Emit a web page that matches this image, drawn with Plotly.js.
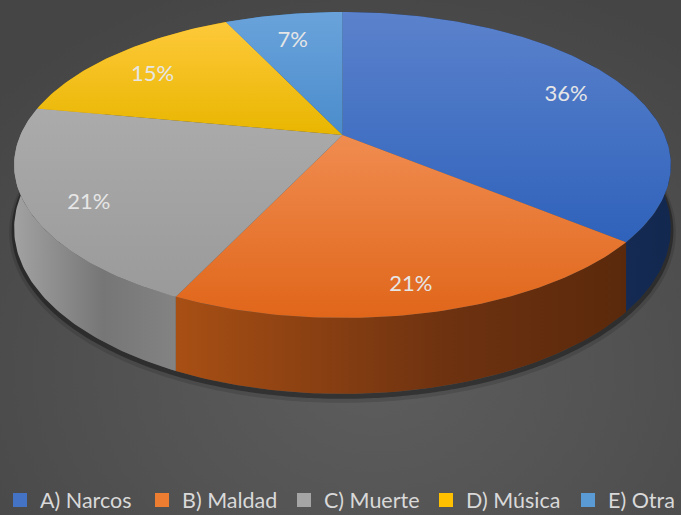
<!DOCTYPE html>
<html><head><meta charset="utf-8">
<script src="https://cdn.plot.ly/plotly-3.0.1.min.js"></script>
<style>
html,body{margin:0;padding:0;background:#4a4a4a;}
#chart{width:681px;height:515px;background:radial-gradient(ellipse 75% 80% at 55% 72%, #5d5d5d 0%, #535353 45%, #454545 100%);}
</style>
</head><body><div id="chart"></div>
<script>
// ---- data ----
const categories = ['A) Narcos', 'B) Maldad', 'C) Muerte', 'D) Música', 'E) Otra'];
const values = [36, 21, 21, 15, 7];

// ---- styles ----
const legendColors = ['#4472C4', '#ED7D31', '#A5A5A5', '#FFC000', '#5B9BD5'];
const topScales = [
  [[0, '#2f62bb'], [1, '#5b82cc']],
  [[0, '#e0661a'], [1, '#f08c50']],
  [[0, '#9a9a9a'], [1, '#ababab']],
  [[0, '#e8b600'], [1, '#fec93a']],
  [[0, '#4a8ccc'], [1, '#6aa3db']]
];
const sideScales = [
  [[0, '#1d3666'], [1, '#13284f']],
  [[0, '#a84f14'], [0.6, '#6e3210'], [1, '#5a290b']],
  [[0, '#a2a2a2'], [0.55, '#767676'], [1, '#838383']],
  [[0, '#c99a00'], [1, '#a07800']],
  [[0, '#3f78b0'], [1, '#2f6090']]
];

// ---- projection (pixel frame) ----
const W = 681, H = 515;
const CX = 342.5, CY = 135, AY = 147.1, BX = 322, K = 0.196, DEPTH = 61;
const LABEL_R = 0.82, LABEL_DROP = 9;
function proj(theta, r, drop) {
  const u = r * Math.sin(theta), v = -r * Math.cos(theta);
  const d = 1 - K * v;
  return [CX + BX * u / d, H - (CY + AY * v / d + drop / d)];
}
const total = values.reduce((a, b) => a + b, 0);
const starts = [], ends = [];
let acc = 0;
values.forEach(v => { starts.push(acc / total * 2 * Math.PI); acc += v; ends.push(acc / total * 2 * Math.PI); });

function arc(a0, a1, drop) {
  const n = Math.max(2, Math.ceil((a1 - a0) / (Math.PI / 180)));
  const pts = [];
  for (let i = 0; i <= n; i++) pts.push(proj(a0 + (a1 - a0) * i / n, 1, drop));
  return pts;
}

const traces = [];
// shadow under the pie
[[10, 'rgba(0,0,0,0.12)', 4], [5, 'rgba(0,0,0,0.35)', 2.5]].forEach(([w, c, off]) => {
  const pts = arc(75 * Math.PI / 180, 285 * Math.PI / 180, DEPTH);
  traces.push({type: 'scatter', mode: 'lines', x: pts.map(p => p[0]), y: pts.map(p => p[1] - off),
    line: {color: c, width: w, shape: 'spline'}, hoverinfo: 'skip', showlegend: false});
});

// side walls (back-to-front order)
const sideOrder = [3, 4, 0, 2, 1];
sideOrder.forEach(i => {
  const topE = arc(starts[i], ends[i], 0);
  const botE = arc(starts[i], ends[i], DEPTH).reverse();
  const pts = topE.concat(botE);
  traces.push({type: 'scatter', mode: 'lines', fill: 'toself', x: pts.map(p => p[0]), y: pts.map(p => p[1]),
    line: {width: 0}, fillgradient: {type: 'horizontal', colorscale: sideScales[i]},
    hoverinfo: 'skip', showlegend: false});
});

// top faces
values.forEach((v, i) => {
  const c = proj(0, 0, 0);
  const pts = [c].concat(arc(starts[i], ends[i], 0)).concat([c]);
  const ys = pts.map(p => p[1]);
  traces.push({type: 'scatter', mode: 'lines', fill: 'toself', x: pts.map(p => p[0]), y: ys,
    line: {width: 0}, fillgradient: {type: 'vertical', colorscale: topScales[i],
      start: Math.min(...ys), stop: Math.max(...ys)},
    hoverinfo: 'skip', showlegend: false});
});

// percentage labels
const lab = values.map((v, i) => proj((starts[i] + ends[i]) / 2, LABEL_R, LABEL_DROP));
traces.push({type: 'scatter', mode: 'text', x: lab.map(p => p[0]), y: lab.map(p => p[1]),
  text: values.map(v => Math.round(v / total * 100) + '%'),
  textfont: {family: 'Lato, Carlito, sans-serif', size: 22, color: '#e6e6e6'},
  hoverinfo: 'skip', showlegend: false});

// legend entries
categories.forEach((name, i) => {
  const t = {type: 'scatter', mode: 'markers', x: [null], y: [null], name: name,
    marker: {symbol: 'square', size: 14, color: legendColors[i]}, showlegend: true};
  if (i === categories.length - 1) t.legendwidth = 70;
  traces.push(t);
});

const layout = {
  width: W, height: H,
  margin: {l: 0, r: 0, t: 0, b: 0, autoexpand: false},
  paper_bgcolor: 'rgba(0,0,0,0)', plot_bgcolor: 'rgba(0,0,0,0)',
  xaxis: {range: [0, W], visible: false, fixedrange: true},
  yaxis: {range: [0, H], visible: false, fixedrange: true},
  showlegend: true,
  legend: {orientation: 'h', x: 0, xanchor: 'left', y: (H - 500) / H, yanchor: 'middle',
    font: {family: 'Lato, Carlito, sans-serif', size: 21.5, color: '#d9d9d9'},
    entrywidth: 97, bgcolor: 'rgba(0,0,0,0)', itemclick: false, itemdoubleclick: false}
};
Plotly.newPlot('chart', traces, layout, {displayModeBar: false, staticPlot: true});
</script>
</body></html>
